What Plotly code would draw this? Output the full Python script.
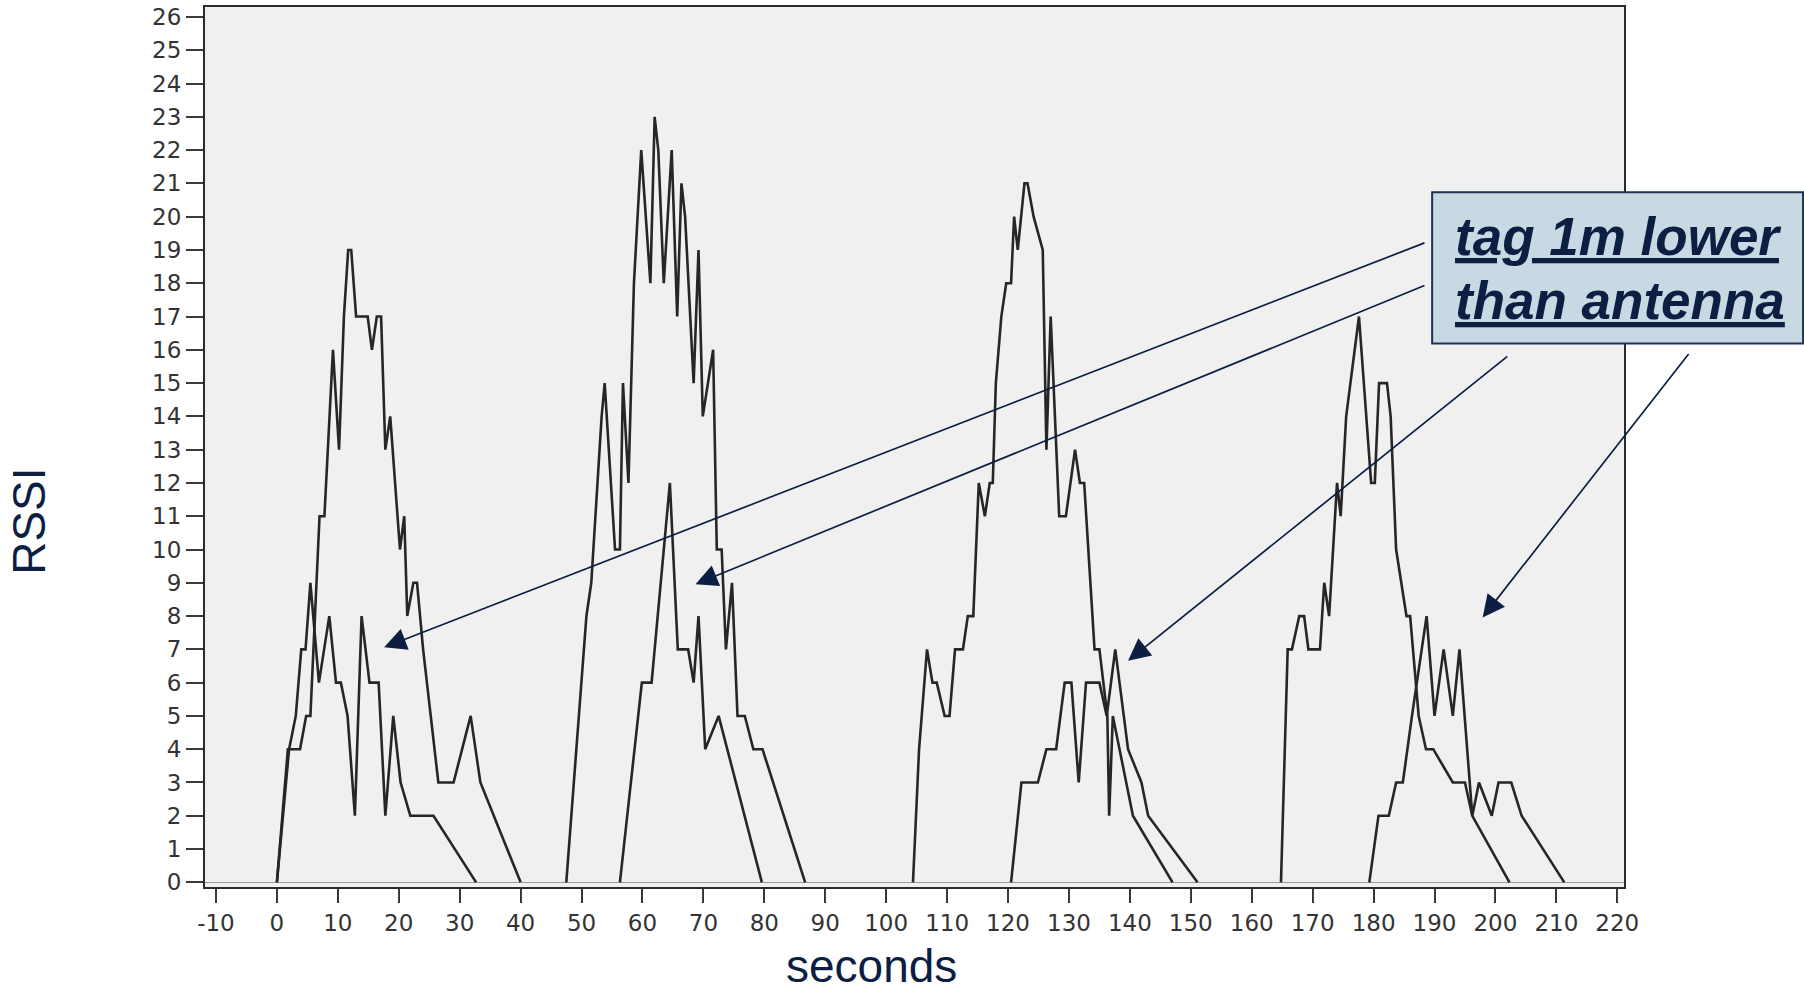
import plotly.graph_objects as go

# ---- data (seconds vs RSSI), two traces, gaps (None) between passes ----
a_seconds = [0, 1.8, 3.8, 4.8, 5.5, 7.0, 7.8, 9.2, 10.2, 11.0, 11.7, 12.2, 13.0, 14.9, 15.6, 16.4, 17.1, 17.8, 18.6,
             20.2, 20.9, 21.4, 22.4, 23.0, 24.0, 26.5, 29.0, 31.8, 33.4, 40.0, None,
             47.5, 50.8, 51.6, 53.3, 53.8, 55.5, 56.3, 56.8, 57.7, 58.6, 59.8, 61.3, 62.0, 62.6, 63.5, 64.8, 65.7,
             66.4, 67.0, 68.4, 69.2, 69.9, 71.6, 72.2, 73.0, 73.7, 74.7, 75.6, 76.8, 78.2, 79.7, 86.7, None,
             104.4, 105.4, 106.7, 107.6, 108.3, 109.6, 110.4, 111.3, 112.6, 113.4, 114.3, 115.2, 116.2, 117.0, 117.5,
             118.0, 118.9, 119.7, 120.5, 121.0, 121.6, 122.7, 123.2, 124.2, 125.7, 126.3, 127.0, 128.4, 129.5, 131.0,
             131.8, 132.5, 134.2, 135.0, 136.3, 136.6, 137.2, 140.5, 147.0, None,
             164.8, 165.9, 166.6, 167.8, 168.6, 169.3, 171.2, 171.9, 172.7, 174.0, 174.6, 175.5, 177.6, 179.6, 180.2,
             180.9, 182.2, 182.8, 183.7, 185.4, 186.0, 187.4, 188.6, 189.8, 193.0, 195.0, 196.2, 202.3]
a_rssi = [0, 4, 4, 5, 5, 11, 11, 16, 13, 17, 19, 19, 17, 17, 16, 17, 17, 13, 14,
          10, 11, 8, 9, 9, 7, 3, 3, 5, 3, 0, None,
          0, 8, 9, 14, 15, 10, 10, 15, 12, 18, 22, 18, 23, 22, 18, 22, 17,
          21, 20, 15, 19, 14, 16, 10, 10, 7, 9, 5, 5, 4, 4, 0, None,
          0, 4, 7, 6, 6, 5, 5, 7, 7, 8, 8, 12, 11, 12, 12,
          15, 17, 18, 18, 20, 19, 21, 21, 20, 19, 13, 17, 11, 11, 13,
          12, 12, 7, 7, 5, 2, 5, 2, 0, None,
          0, 7, 7, 8, 8, 7, 7, 9, 8, 12, 11, 14, 17, 12, 12,
          15, 15, 14, 10, 8, 8, 5, 4, 4, 3, 3, 2, 0]

b_seconds = [0, 2.0, 3.1, 4.0, 4.7, 5.5, 6.9, 8.6, 9.7, 10.5, 11.6, 12.8, 13.9, 15.2, 16.7, 17.8, 19.1, 20.3,
             21.9, 25.7, 32.7, None,
             56.3, 59.9, 61.5, 64.5, 65.8, 67.5, 68.4, 69.2, 70.3, 72.5, 79.6, None,
             120.5, 122.2, 124.9, 126.3, 127.9, 129.3, 130.4, 131.6, 132.8, 135.0, 136.2, 137.6, 139.7, 141.9,
             143.0, 151.1, None,
             179.3, 180.8, 182.5, 183.7, 184.8, 186.3, 188.7, 190.0, 191.5, 193.0, 194.1, 196.2, 197.3, 199.4,
             200.5, 202.6, 204.3, 211.3]
b_rssi = [0, 4, 5, 7, 7, 9, 6, 8, 6, 6, 5, 2, 8, 6, 6, 2, 5, 3,
          2, 2, 0, None,
          0, 6, 6, 12, 7, 7, 6, 8, 4, 5, 0, None,
          0, 3, 3, 4, 4, 6, 6, 3, 6, 6, 5, 7, 4, 3,
          2, 0, None,
          0, 2, 2, 3, 3, 5, 8, 5, 7, 5, 7, 2, 3, 2,
          3, 3, 2, 0]

x_ticks = [-10, 0, 10, 20, 30, 40, 50, 60, 70, 80, 90, 100, 110, 120, 130, 140, 150, 160, 170, 180, 190,
           200, 210, 220]
y_ticks = [0, 1, 2, 3, 4, 5, 6, 7, 8, 9, 10, 11, 12, 13, 14, 15, 16, 17, 18, 19, 20, 21, 22, 23, 24, 25, 26]

# callout text and the points its arrows indicate (data coordinates)
callout_lines = ["tag 1m lower", "than antenna"]
arrow_head_x = [17.6, 68.7, 139.7, 197.9]
arrow_head_y = [7.06, 8.96, 6.66, 7.96]
arrow_tail_x = [188.6, 188.6, 202.2, 231.9]
arrow_tail_y = [19.23, 17.95, 15.84, 15.92]

NAVY = "#0c1e42"
LINE = "#262626"
TICKFONT = dict(family="DejaVu Sans", size=23, color="#333333")
ARIAL = "Arial, Liberation Sans, sans-serif"

fig = go.Figure()
fig.add_trace(go.Scatter(x=a_seconds, y=a_rssi, mode="lines", connectgaps=False,
                         line=dict(color=LINE, width=2.6), hoverinfo="skip"))
fig.add_trace(go.Scatter(x=b_seconds, y=b_rssi, mode="lines", connectgaps=False,
                         line=dict(color=LINE, width=2.6), hoverinfo="skip"))

fig.update_layout(
    width=1804, height=993,
    margin=dict(l=205, r=180, t=4, b=106),
    paper_bgcolor="white", plot_bgcolor="#f0f0f0",
    showlegend=False,
)
fig.update_xaxes(range=[-11.8, 221.1], tickvals=x_ticks, ticktext=[str(v) for v in x_ticks],
                 ticks="outside", ticklen=14, tickwidth=2, tickcolor="#3a3a3a",
                 tickfont=TICKFONT, ticklabelstandoff=0,
                 showgrid=False, zeroline=False, showline=True, linecolor="#2b2b2b",
                 linewidth=2, mirror=True)
fig.update_yaxes(range=[-0.14, 26.3], tickvals=y_ticks, ticktext=[str(v) for v in y_ticks],
                 ticks="outside", ticklen=17, tickwidth=2, tickcolor="#3a3a3a",
                 tickfont=TICKFONT, ticklabelstandoff=0,
                 showgrid=False, zeroline=True, zerolinecolor="#9a9a9a", zerolinewidth=1,
                 showline=True, linecolor="#2b2b2b", linewidth=2, mirror=True)

# axis titles
fig.add_annotation(text="RSSI", xref="paper", yref="paper", x=-0.1241, y=0.416,
                   xanchor="center", yanchor="middle", textangle=-90, showarrow=False,
                   font=dict(family=ARIAL, size=46, color=NAVY))
fig.add_annotation(text="seconds", xref="paper", yref="paper", x=0.4697, y=-0.0903,
                   xanchor="center", yanchor="middle", showarrow=False,
                   font=dict(family=ARIAL, size=46, color=NAVY))

# arrows
for hx, hy, tx, ty in zip(arrow_head_x, arrow_head_y, arrow_tail_x, arrow_tail_y):
    fig.add_annotation(x=hx, y=hy, ax=tx, ay=ty, xref="x", yref="y", axref="x", ayref="y",
                       text="", showarrow=True, arrowhead=2, arrowsize=2.6, arrowwidth=1.7,
                       arrowcolor=NAVY, standoff=0)

# callout box
fig.add_shape(type="rect", xref="paper", yref="paper", x0=0.8648, x1=1.1262, y0=0.6176, y1=0.7894,
              fillcolor="#c8d9e3", line=dict(color="#1d3352", width=2), layer="above")
for txt, yy in zip(callout_lines, [0.7387, 0.6662]):
    fig.add_annotation(text="<u>" + txt + "</u>", xref="paper", yref="paper", x=0.8795, y=yy,
                       xanchor="left", yanchor="middle", showarrow=False,
                       font=dict(family=ARIAL, size=53, color=NAVY, weight="bold", style="italic"))

fig.write_html("out.html", config={"displayModeBar": False},
               post_script="document.body.style.margin='0px';")
